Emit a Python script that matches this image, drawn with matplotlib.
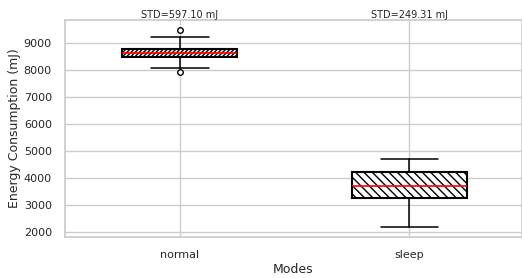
import matplotlib
matplotlib.use("Agg")
import matplotlib.pyplot as plt
import seaborn as sns

sns.set_theme(style="whitegrid")
plt.rcParams['font.family'] = ['DejaVu Sans']

modes = ["normal", "sleep"]
# box statistics
medians = [8620, 3700]
q1 = [8450, 3280]
q3 = [8770, 4220]
whislo = [8050, 2200]
whishi = [9220, 4690]
fliers = [[9470, 7900], []]
std_labels = ["STD=597.10 mJ", "STD=249.31 mJ"]
hatches = ["////////", "\\\\\\\\"]

stats = []
for i, m in enumerate(modes):
    stats.append(dict(label=m, med=medians[i], q1=q1[i], q3=q3[i],
                      whislo=whislo[i], whishi=whishi[i], fliers=fliers[i]))

fig = plt.figure(figsize=(5.22, 2.78), dpi=100)
ax = fig.add_axes([65/522, (278-236.7)/278, (522-65)/522, (236.7-20)/278])

bp = ax.bxp(stats, positions=[0, 1], widths=0.5, patch_artist=True,
            boxprops=dict(facecolor="white", edgecolor="black", linewidth=1.5),
            medianprops=dict(color="red", linewidth=1.2),
            whiskerprops=dict(color="black", linewidth=1.1),
            capprops=dict(color="black", linewidth=1.1),
            flierprops=dict(marker="o", markerfacecolor="white", markeredgecolor="black", markersize=4))
for patch, h in zip(bp["boxes"], hatches):
    patch.set_hatch(h)

ax.set_xlim(-0.5, 1.49)
ax.set_xticks([0, 1])
ax.set_xticklabels(modes, fontsize=8)
ax.tick_params(axis="y", labelsize=8)
ax.set_xlabel("Modes", fontsize=9, labelpad=2)
ax.set_ylabel("Energy Consumption (mJ)", fontsize=9, labelpad=2)
for i, s in enumerate(std_labels):
    ax.text(i, 1.008, s, transform=ax.get_xaxis_transform(), ha="center", va="baseline", fontsize=7)

fig.savefig("out.png", dpi=100)
